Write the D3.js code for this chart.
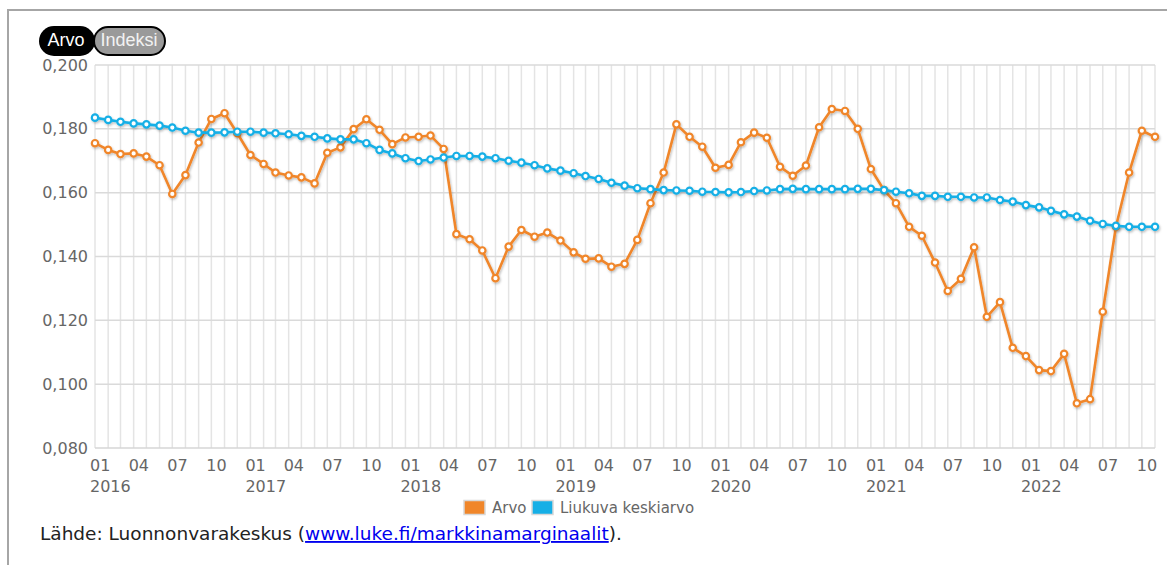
<!DOCTYPE html>
<html>
<head>
<meta charset="utf-8">
<script src="https://cdn.jsdelivr.net/npm/d3@7"></script>
<style>
  body { margin: 0; background: #fff; font-family: "DejaVu Sans", Verdana, sans-serif; }
</style>
</head>
<body>
<div id="chart"></div>
<script>
// categories: monthly, 2016-01 .. 2022-11
const firstMonth = '2016-01';
const lastMonth = '2022-11';

// Arvo (monthly value)
const arvo = [
  0.1755, 0.1734, 0.1721, 0.1723, 0.1713, 0.1686, 0.1596, 0.1655, 0.1757, 0.1831, 0.1849, 0.1786,
  0.1718, 0.1690, 0.1663, 0.1654, 0.1648, 0.1629, 0.1725, 0.1742, 0.1799, 0.1830, 0.1797, 0.1752,
  0.1773, 0.1775, 0.1779, 0.1737, 0.1470, 0.1454, 0.1419, 0.1332, 0.1431, 0.1483, 0.1462, 0.1475,
  0.1450, 0.1413, 0.1393, 0.1394, 0.1368, 0.1377, 0.1452, 0.1567, 0.1663, 0.1814, 0.1775, 0.1744,
  0.1678, 0.1687, 0.1758, 0.1788, 0.1772, 0.1681, 0.1653, 0.1685, 0.1805, 0.1862, 0.1856, 0.1800,
  0.1674, 0.1608, 0.1567, 0.1493, 0.1465, 0.1381, 0.1292, 0.1330, 0.1429, 0.1211, 0.1257, 0.1114,
  0.1088, 0.1044, 0.1041, 0.1095, 0.0940, 0.0953, 0.1227, 0.1493, 0.1663, 0.1794, 0.1775
];

// Liukuva keskiarvo (moving average)
const liukuva = [
  0.1835, 0.1828, 0.1822, 0.1817, 0.1814, 0.1810, 0.1804, 0.1794, 0.1788, 0.1788, 0.1789, 0.1791,
  0.1791, 0.1788, 0.1786, 0.1783, 0.1778, 0.1775, 0.1770, 0.1767, 0.1767, 0.1755, 0.1734, 0.1723,
  0.1708, 0.1699, 0.1704, 0.1710, 0.1715, 0.1715, 0.1713, 0.1708, 0.1700, 0.1694, 0.1686, 0.1676,
  0.1669, 0.1661, 0.1652, 0.1643, 0.1631, 0.1622, 0.1614, 0.1611, 0.1608, 0.1607, 0.1606, 0.1603,
  0.1602, 0.1601, 0.1602, 0.1605, 0.1607, 0.1611, 0.1612, 0.1611, 0.1611, 0.1611, 0.1611, 0.1612,
  0.1612, 0.1608, 0.1603, 0.1598, 0.1590, 0.1590, 0.1587, 0.1587, 0.1585, 0.1585, 0.1577, 0.1572,
  0.1561, 0.1554, 0.1543, 0.1532, 0.1525, 0.1512, 0.1502, 0.1496, 0.1493, 0.1493, 0.1493
];

const yTicks = [0.08, 0.10, 0.12, 0.14, 0.16, 0.18, 0.20];
const seriesNames = ['Arvo', 'Liukuva keskiarvo'];
const seriesColors = ['#f0862a', '#16afe6'];
const buttonLabels = ['Arvo', 'Indeksi'];
const sourceText = 'Lähde: Luonnonvarakeskus (';
const sourceLink = 'www.luke.fi/markkinamarginaalit';
const sourceEnd = ').';

const parseMonth = d3.timeParse('%Y-%m');
const months = d3.timeMonth.range(parseMonth(firstMonth), d3.timeMonth.offset(parseMonth(lastMonth), 1));

const W = 1167, H = 565;
const plot = { left: 95, right: 1155, top: 65, bottom: 448 };

const svg = d3.select('#chart').append('svg')
  .attr('width', W)
  .attr('height', H);

// soft shadow under the lines
const defs = svg.append('defs');
defs.append('filter')
  .attr('id', 'shadow')
  .attr('x', '-5%').attr('y', '-5%').attr('width', '110%').attr('height', '110%')
  .append('feDropShadow')
  .attr('dx', 1).attr('dy', 1.5).attr('stdDeviation', 1.2)
  .attr('flood-color', '#000').attr('flood-opacity', 0.25);

// outer frame
svg.append('path')
  .attr('d', `M8,${H} L8,10 L${W},10`)
  .attr('fill', 'none')
  .attr('stroke', '#a6a6a6')
  .attr('stroke-width', 2);

// scales
const x = d3.scaleTime()
  .domain([months[0], months[months.length - 1]])
  .range([plot.left, plot.right]);
const y = d3.scaleLinear()
  .domain([0.08, 0.20])
  .range([plot.bottom, plot.top]);

const fi = d3.formatLocale({ decimal: ',', thousands: ' ', grouping: [3], currency: ['', '€'] });
const fmt = fi.format('.3f');

// vertical grid, one line per month
svg.append('g').selectAll('line').data(months).enter()
  .append('line')
  .attr('x1', d => x(d)).attr('x2', d => x(d))
  .attr('y1', plot.top).attr('y2', plot.bottom)
  .attr('stroke', '#e4e4e4')
  .attr('stroke-width', 1.5);

// horizontal grid
svg.append('g').selectAll('line').data(yTicks).enter()
  .append('line')
  .attr('x1', plot.left).attr('x2', plot.right)
  .attr('y1', d => y(d)).attr('y2', d => y(d))
  .attr('stroke', d => d === 0.08 ? '#d6d6d6' : '#dadada')
  .attr('stroke-width', 1.5);

// y axis labels
const yAxis = g => g
  .attr('transform', `translate(${plot.left - 7},0)`)
  .call(d3.axisLeft(y).tickValues(yTicks).tickFormat(fmt).tickSize(0).tickPadding(0))
  .call(g => g.select('.domain').remove());
svg.append('g')
  .call(yAxis)
  .call(g => g.selectAll('text')
    .attr('fill', '#666')
    .style('font-family', '"DejaVu Sans", Verdana, sans-serif')
    .style('font-size', '16px'));

// x axis: month number every third month, year below January
const quarterMonths = months.filter(d => d.getMonth() % 3 === 0);
const xLabels = svg.append('g')
  .attr('fill', '#666')
  .style('font-size', '16px');
xLabels.selectAll('.m').data(quarterMonths).enter()
  .append('text')
  .attr('x', d => x(d) - 5)
  .attr('y', 471)
  .text(d3.timeFormat('%m'));
xLabels.selectAll('.yr').data(months.filter(d => d.getMonth() === 0)).enter()
  .append('text')
  .attr('x', d => x(d) - 5)
  .attr('y', 492)
  .text(d3.timeFormat('%Y'));

// lines with markers
const line = d3.line()
  .x((d, i) => x(months[i]))
  .y(d => y(d));

[arvo, liukuva].forEach((values, k) => {
  const g = svg.append('g').attr('filter', 'url(#shadow)');
  g.append('path')
    .datum(values)
    .attr('d', line)
    .attr('fill', 'none')
    .attr('stroke', seriesColors[k])
    .attr('stroke-width', 2.6)
    .attr('stroke-linejoin', 'round');
  g.selectAll('circle').data(values).enter()
    .append('circle')
    .attr('cx', (d, i) => x(months[i]))
    .attr('cy', d => y(d))
    .attr('r', 3.2)
    .attr('fill', '#fff')
    .attr('stroke', seriesColors[k])
    .attr('stroke-width', 2.2);
});

// Arvo / Indeksi toggle
const btn = svg.append('g').style('font-family', '"Liberation Sans", Arial, sans-serif');
btn.append('rect')
  .attr('x', 94).attr('y', 27).attr('width', 71).attr('height', 28).attr('rx', 14)
  .attr('fill', '#9a9a9a').attr('stroke', '#000').attr('stroke-width', 2);
btn.append('rect')
  .attr('x', 39).attr('y', 26).attr('width', 56).attr('height', 30).attr('rx', 15)
  .attr('fill', '#000');
btn.append('text')
  .attr('x', 66).attr('y', 46).attr('text-anchor', 'middle')
  .attr('fill', '#fff').style('font-size', '18px')
  .text(buttonLabels[0]);
btn.append('text')
  .attr('x', 129).attr('y', 46).attr('text-anchor', 'middle')
  .attr('fill', '#f2f2f2').style('font-size', '18px')
  .text(buttonLabels[1]);

// legend
const legend = svg.append('g')
  .style('font-size', '15px')
  .attr('fill', '#666');
const legendX = [464, 532];
seriesNames.forEach((name, k) => {
  legend.append('rect')
    .attr('x', legendX[k]).attr('y', 500.5)
    .attr('width', 21).attr('height', 14)
    .attr('fill', seriesColors[k])
    .attr('stroke', '#d8d8d8').attr('stroke-width', 1.5);
  legend.append('text')
    .attr('x', legendX[k] + 28).attr('y', 513)
    .text(name);
});

// source line
const src = svg.append('text')
  .attr('x', 40).attr('y', 540)
  .attr('fill', '#222')
  .style('font-size', '18.5px');
src.append('tspan').text(sourceText);
src.append('tspan')
  .attr('fill', '#0000ee')
  .style('text-decoration', 'underline')
  .text(sourceLink);
src.append('tspan').text(sourceEnd);
</script>
</body>
</html>
